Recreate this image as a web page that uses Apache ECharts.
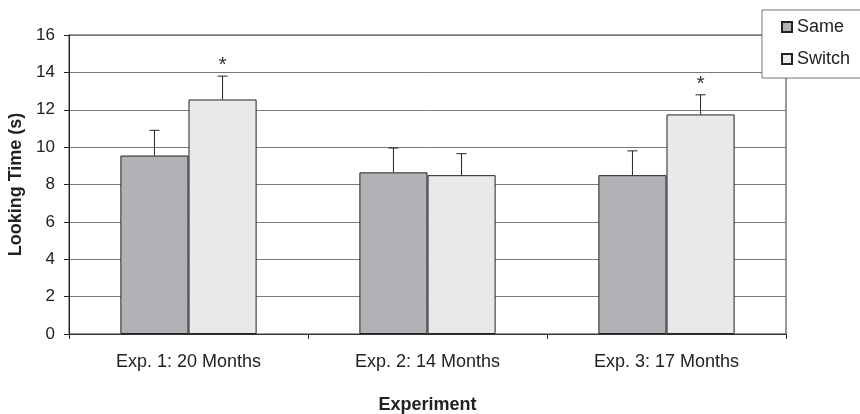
<!DOCTYPE html>
<html>
<head>
<meta charset="utf-8">
<script src="https://cdn.jsdelivr.net/npm/echarts@6/dist/echarts.min.js"></script>
<style>
  html, body { margin: 0; padding: 0; background: #fff; }
  #chart { width: 860px; height: 414px; }
</style>
</head>
<body>
<div id="chart"></div>
<script>
// Mean looking times per experiment and condition, with upper error bars
const categories = ['Exp. 1: 20 Months', 'Exp. 2: 14 Months', 'Exp. 3: 17 Months'];
const sameMeans = [9.55, 8.65, 8.5];
const switchMeans = [12.55, 8.5, 11.75];
const sameErr = [1.35, 1.3, 1.3];
const switchErr = [1.25, 1.15, 1.05];
const switchSignificant = [true, false, true];
const yTicks = { min: 0, max: 16, interval: 2 };

const FONT = '"Liberation Sans", Arial, sans-serif';
const BAR_FRACTION = 0.285;
const sameColor = '#b1b2b5';
const switchColor = '#e8e9eb';
const edgeColor = '#222';

// data items for the error-bar series: [categoryIndex, mean, error, significant]
function errorData(means, errs, sig) {
  return means.map((m, i) => [i, m, errs[i], sig ? (sig[i] ? 1 : 0) : 0]);
}

function makeErrorRenderer(side) {
  return function (params, api) {
    const idx = api.value(0);
    const mean = api.value(1);
    const err = api.value(2);
    const sig = api.value(3);
    const bandWidth = api.size([1, 0])[0];
    const barW = bandWidth * BAR_FRACTION;
    const base = api.coord([idx, mean]);
    const top = api.coord([idx, mean + err]);
    const x = base[0] + side * barW / 2;
    const cap = 5;
    const children = [
      { type: 'line', shape: { x1: x, y1: base[1], x2: x, y2: top[1] },
        style: { stroke: edgeColor, lineWidth: 1 } },
      { type: 'line', shape: { x1: x - cap, y1: top[1], x2: x + cap, y2: top[1] },
        style: { stroke: edgeColor, lineWidth: 1 } }
    ];
    if (sig) {
      children.push({
        type: 'text',
        style: { x: x, y: top[1] - 11, text: '*', fill: '#333',
                 font: '21px ' + FONT, align: 'center', verticalAlign: 'middle' }
      });
    }
    return { type: 'group', children: children };
  };
}

const chart = echarts.init(document.getElementById('chart'), null, { renderer: 'canvas' });

chart.setOption({
  animation: false,
  backgroundColor: '#fff',
  textStyle: { fontFamily: FONT, color: '#222' },
  grid: {
    left: 69, right: 74, top: 35, bottom: 80,
    outerBoundsMode: 'none',
    show: true, borderColor: '#333', borderWidth: 1, backgroundColor: 'transparent'
  },
  legend: {
    data: ['Same', 'Switch'],
    orient: 'vertical',
    left: 762, top: 10,
    padding: [8, 30, 10, 19],
    itemWidth: 10, itemHeight: 10, itemGap: 14,
    icon: 'rect',
    backgroundColor: '#fff',
    borderColor: '#777', borderWidth: 1,
    textStyle: { fontFamily: FONT, fontSize: 18, color: '#222' }
  },
  xAxis: {
    type: 'category',
    data: categories,
    name: 'Experiment',
    nameLocation: 'middle',
    nameGap: 62,
    nameTextStyle: { fontFamily: FONT, fontSize: 18, fontWeight: 'bold', color: '#222' },
    axisLine: { show: true, lineStyle: { color: '#333', width: 1 } },
    axisTick: { show: true, alignWithLabel: false, length: 5, lineStyle: { color: '#333' } },
    axisLabel: { fontFamily: FONT, fontSize: 18, color: '#222', margin: 19 },
    splitLine: { show: false }
  },
  yAxis: {
    type: 'value',
    min: yTicks.min, max: yTicks.max, interval: yTicks.interval,
    name: 'Looking Time (s)',
    nameLocation: 'middle',
    nameGap: 44,
    nameTextStyle: { fontFamily: FONT, fontSize: 18, fontWeight: 'bold', color: '#222' },
    axisLine: { show: true, lineStyle: { color: '#222', width: 1 } },
    axisTick: { show: true, length: 5, lineStyle: { color: '#222' } },
    axisLabel: { fontFamily: FONT, fontSize: 17, color: '#222', margin: 14 },
    splitLine: { show: true, lineStyle: { color: '#7a7a7a', width: 1 } }
  },
  series: [
    {
      name: 'Same', type: 'bar', data: sameMeans,
      barWidth: (BAR_FRACTION * 100) + '%', barGap: '0%',
      itemStyle: { color: sameColor, borderColor: edgeColor, borderWidth: 1 },
      z: 2
    },
    {
      name: 'Switch', type: 'bar', data: switchMeans,
      barWidth: (BAR_FRACTION * 100) + '%', barGap: '0%',
      itemStyle: { color: switchColor, borderColor: edgeColor, borderWidth: 1 },
      z: 2
    },
    {
      name: 'Same error', type: 'custom',
      renderItem: makeErrorRenderer(-1),
      data: errorData(sameMeans, sameErr, null),
      encode: { x: 0, y: 1 }, z: 3, silent: true
    },
    {
      name: 'Switch error', type: 'custom',
      renderItem: makeErrorRenderer(1),
      data: errorData(switchMeans, switchErr, switchSignificant),
      encode: { x: 0, y: 1 }, z: 3, silent: true
    }
  ]
});
</script>
</body>
</html>
